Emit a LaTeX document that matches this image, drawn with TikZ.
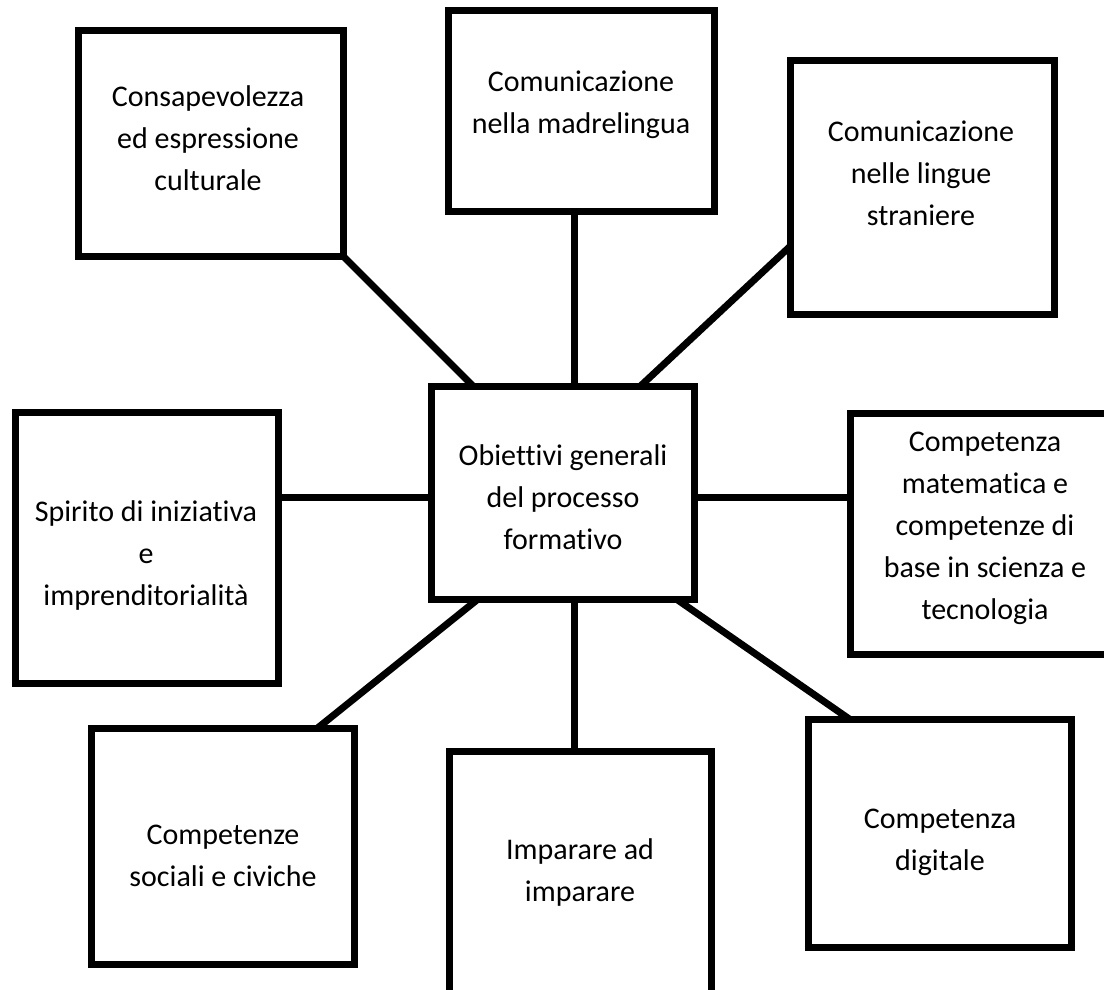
\documentclass[tikz,border=0pt]{standalone}
\usepackage{fontspec}
\setmainfont{Carlito}[Ligatures={NoCommon,NoContextual}]
\usetikzlibrary{calc}
\begin{document}
\begin{tikzpicture}[x=1pt,y=-1pt,
  box/.style={draw=black, line width=7pt, fill=white, inner sep=0pt, outer sep=0pt},
  lbl/.style={align=center, inner sep=0pt, font=\fontsize{30}{42}\selectfont},
  conn/.style={draw=black, line width=7pt}]
\clip (0,0) rectangle (1104,989);
\fill[white] (0,0) rectangle (1104,989);
\coordinate (vx) at (574,0);
\coordinate (hy) at (0,497.5);
% boxes
\node[box, minimum width=263pt, minimum height=213pt] (ctr) at (563,493) {};
\node[box, minimum width=265pt, minimum height=226pt] (cons) at (211,143.5) {};
\node[box, minimum width=266pt, minimum height=201pt] (madre) at (581.5,111) {};
\node[box, minimum width=264pt, minimum height=254pt] (ling) at (922.5,187.5) {};
\node[box, minimum width=263pt, minimum height=271pt] (spir) at (147,548) {};
\node[box, minimum width=265pt, minimum height=241pt] (mat) at (983,534) {};
\node[box, minimum width=263pt, minimum height=236pt] (soc) at (223,846.5) {};
\node[box, minimum width=262pt, minimum height=242pt] (imp) at (580.5,872.5) {};
\node[box, minimum width=263pt, minimum height=228pt] (dig) at (940,833.5) {};
% connectors
\draw[conn] (cons.south east) -- ($(ctr.north west)+(42,0)$);
\draw[conn] (madre.south -| vx) -- (ctr.north -| vx);
\draw[conn] ($(ling.west)+(0,58.5)$) -- ($(ctr.north west)+(208.5,0)$);
\draw[conn] (spir.east |- hy) -- (ctr.west |- hy);
\draw[conn] (ctr.east |- hy) -- (mat.west |- hy);
\draw[conn] ($(ctr.south west)+(46,0)$) -- ($(soc.north west)+(225.5,0)$);
\draw[conn] (ctr.south -| vx) -- (imp.north -| vx);
\draw[conn] ($(ctr.south west)+(245.5,0)$) -- ($(dig.north west)+(41.5,0)$);
% labels
\node[lbl] (tcons) at (208,140) {\strut Consapevolezza\\ed espressione\\culturale\strut};
\node[lbl] (tmadre) at (581,104) {\strut Comunicazione\\nella madrelingua\strut};
\node[lbl] (tling) at (921,175) {\strut Comunicazione\\nelle lingue\\straniere\strut};
\node[lbl] (tctr) at (563,499) {\strut Obiettivi generali\\del processo\\formativo\strut};
\node[lbl] (tspir) at (146,555) {\strut Spirito di iniziativa\\e\\imprenditorialità\strut};
\node[lbl] (tmat) at (985,527) {\strut Competenza\\matematica e\\competenze di\\base in scienza e\\tecnologia\strut};
\node[lbl] (tsoc) at (223,857.5) {\strut Competenze\\sociali e civiche\strut};
\node[lbl] (timp) at (580,872.5) {\strut Imparare ad\\imparare\strut};
\node[lbl] (tdig) at (940,841) {\strut Competenza\\digitale\strut};
\end{tikzpicture}
\end{document}
